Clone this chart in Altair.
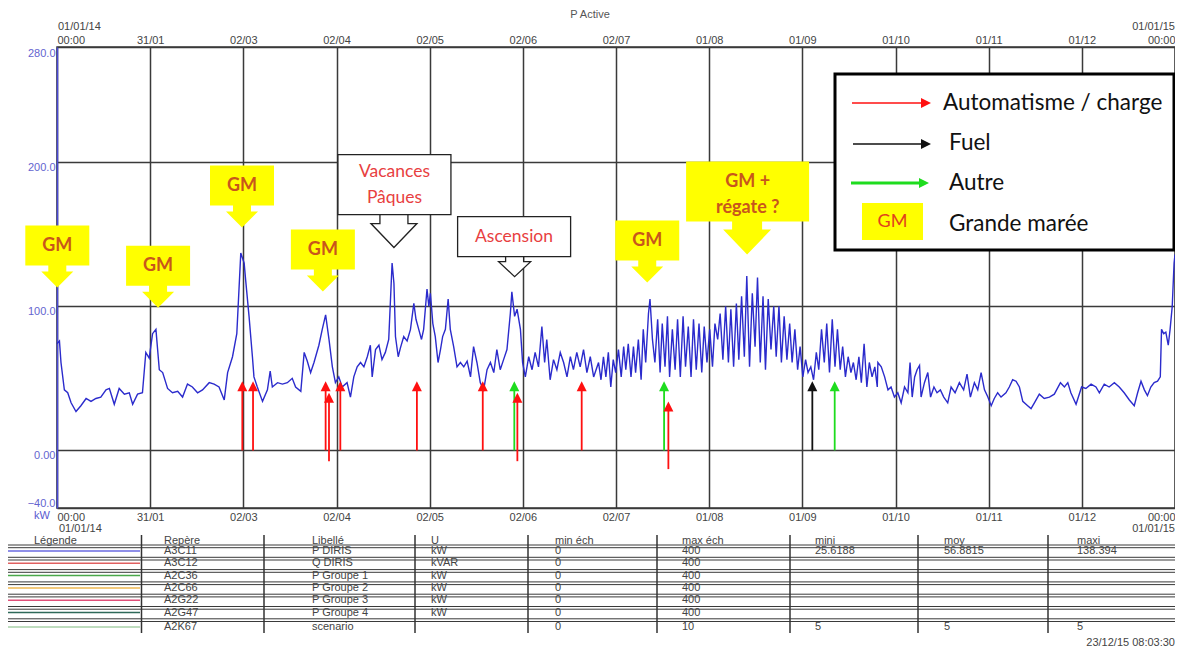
import altair as alt
import pandas as pd

# ---------------- series: P DIRIS (kW) vs day of year 2014 ----------------
day = [0.0, 0.8, 1.3, 2.4, 3.5, 4.6, 6.2, 7.8, 9.5, 11.1, 12.7, 14.3, 16.0, 17.1, 18.7, 20.3, 22.0, 23.6, 24.7, 26.3,
       27.9, 29.0, 30.1, 31.2, 32.3, 33.4, 34.5, 36.1, 37.7, 39.4, 41.0, 42.6, 44.2, 45.9, 47.5, 49.7, 51.3, 52.9, 54.6, 55.7,
       57.3, 58.7, 60.0, 61.1, 61.6, 62.7, 63.8, 64.3, 65.4, 67.1, 68.7, 69.6, 70.3, 72.0, 73.6, 75.2, 76.8, 77.9, 79.6, 80.7,
       81.7, 82.8, 83.9, 85.5, 86.6, 87.7, 88.8, 89.9,
       90.9, 92.0, 93.1, 94.7, 95.8, 96.9, 98.0, 99.1, 100.2, 101.3, 102.3, 102.9, 104.0, 105.1, 106.1, 107.2, 108.3, 109.4,
       110.0, 110.5, 111.4, 112.1, 113.2, 114.3, 115.4, 116.5, 117.2, 118.1, 119.0, 119.7, 120.8, 121.4, 121.9, 122.7, 123.5,
       124.4, 125.2, 125.9, 126.8, 127.7, 128.4, 129.5, 130.6, 131.7, 132.8, 133.9, 135.0, 136.0, 137.1, 138.2, 139.3, 140.4,
       141.5, 142.6, 143.6, 144.7, 145.8, 146.9, 148.0, 148.5, 149.4, 150.2, 151.3, 152.0, 152.9, 154.0, 155.1, 156.1, 157.2,
       158.3, 159.2, 159.9, 161.0, 162.1, 163.2, 164.3, 165.4, 166.5, 167.6, 168.6, 169.7, 170.8, 171.9, 173.0, 174.1, 175.2,
       176.8, 177.6, 178.4, 179.2, 180.0, 180.8, 181.6, 182.4, 183.3, 184.2, 185.0, 185.7, 186.5, 187.4, 188.2, 188.9, 189.8,
       190.7, 191.4, 192.2, 193.1, 193.6, 194.4, 195.2, 196.1, 196.9, 197.6, 198.5, 199.3, 200.0, 200.9, 201.8, 202.6, 203.5,
       204.4, 205.2, 206.1, 207.0, 207.8, 208.7, 209.6, 210.5, 211.3, 212.2, 213.1, 214.0, 214.8, 215.7, 216.5, 217.4, 218.3,
       219.2, 220.0, 220.9, 221.8, 222.6, 223.5, 224.4, 225.2, 226.1, 227.0, 227.9, 228.7, 229.6, 230.5, 231.3, 232.2, 233.1,
       234.0, 234.8, 235.7, 236.5, 237.4, 238.3, 239.2, 240.0, 240.9, 241.8, 242.6, 243.5, 244.4, 245.2, 246.1, 247.0, 247.9,
       248.7, 249.6, 250.5, 251.3, 252.2, 253.1, 254.0, 254.8, 255.7, 256.5, 257.4, 258.3, 259.2, 260.0, 260.9, 261.8, 262.6,
       263.5, 264.4, 265.2, 266.1, 267.0, 267.8,
       268.0, 269.1, 270.2, 271.3, 272.3, 273.4, 274.5, 275.6, 276.7, 277.8, 278.5, 279.2, 280.0, 280.8, 281.6, 282.1, 283.2,
       284.3, 285.2, 286.3, 287.3, 288.4, 289.5, 290.8, 291.9, 293.2, 294.6, 296.0, 297.1, 298.2, 299.5, 300.6, 301.7, 302.8,
       303.9, 305.0, 306.0, 307.1, 308.2, 309.8, 310.9, 312.0, 313.1, 314.2, 315.3, 316.9, 318.0, 319.1, 320.7, 322.3, 324.0,
       325.6, 327.6, 328.9, 330.0, 331.0, 332.7, 334.5, 335.9, 337.6, 339.2, 340.3, 341.9, 343.5, 345.2, 346.8, 348.4, 350.1,
       351.7, 352.8, 353.9, 355.0, 356.0, 357.1, 358.2, 359.3, 360.2, 360.6, 361.3, 362.0, 362.8, 363.4, 364.1, 364.7, 365.0]
kw = [74, 76, 61, 42, 40, 33, 27, 31, 36, 34, 36, 37, 42, 43, 32, 43, 39, 40, 32, 39,
      40, 68, 64, 81, 84, 56, 54, 43, 40, 41, 37, 46, 44, 40, 42, 47, 46, 44, 35, 54,
      65, 81, 137, 130, 118, 93, 65, 51, 44, 34, 42, 55, 44, 47, 46, 47, 50, 44, 41, 68,
      62, 54, 61, 73, 84, 94, 77, 58,
      47, 51, 44, 47, 37, 51, 58, 61, 58, 65, 73, 51, 70, 73, 63, 68, 77, 130,
      116, 79, 65, 71, 79, 76, 84, 102, 91, 84, 77, 84, 112, 100, 109, 88, 79,
      61, 70, 79, 84, 105, 84, 72, 58, 61, 58, 62, 51, 72, 61, 47, 42, 56,
      61, 54, 70, 56, 63, 70, 95, 110, 93, 98, 84, 61, 51, 65, 56, 68, 58,
      86, 61, 77, 49, 63, 56, 68, 61, 51, 65, 56, 68, 58, 70, 54, 65, 51,
      61, 49, 65, 51, 68, 44, 63, 54, 70, 51, 72, 56, 74, 51, 72, 54, 77,
      49, 84, 61, 95, 105, 77, 61, 91, 54, 88, 58, 93, 51, 84, 56, 91, 51,
      93, 58, 86, 51, 91, 56, 88, 54, 86, 61, 84, 58, 88, 77, 95, 63, 100,
      61, 98, 58, 102, 63, 107, 65, 121, 58, 109, 72, 120, 61, 107, 56, 105, 70,
      100, 65, 100, 61, 93, 63, 88, 61, 84, 56, 72, 51, 63, 54, 58, 49, 68,
      56, 84, 61, 88, 54, 91, 58, 84, 56, 72, 51, 65, 54, 61, 49, 65, 47,
      74, 44, 61, 51, 58, 44,
      61, 58, 51, 42, 44, 37, 40, 33, 44, 40, 61, 37, 51, 56, 59, 37, 47,
      54, 37, 44, 40, 42, 37, 33, 44, 40, 47, 42, 53, 37, 47, 42, 54, 42,
      37, 31, 36, 40, 37, 40, 44, 49, 48, 44, 34, 31, 29, 33, 39, 36, 37,
      39, 47, 44, 47, 40, 32, 44, 43, 46, 44, 40, 46, 44, 47, 44, 40, 35,
      31, 40, 48, 42, 38, 44, 47, 48, 51, 84, 81, 82, 73, 84, 100, 130, 136]

# ---------------- event arrows ----------------
ev_day = [60.5, 64.0, 87.7, 88.8, 92.5, 117.5, 139.0, 149.3, 150.3, 171.3, 198.2, 199.6, 246.6, 253.9]
ev_from = [0, 0, 0, -7.5, 0, 0, 0, 0, -7.5, 0, 0, -13, 0, 0]
ev_tip = [48, 48, 48, 40, 48, 48, 48, 48, 40, 48, 48, 34, 48, 48]
ev_kind = ["Automatisme / charge"] * 7 + ["Autre", "Automatisme / charge", "Automatisme / charge",
                                          "Autre", "Automatisme / charge", "Fuel", "Autre"]
kinds = ["Automatisme / charge", "Fuel", "Autre"]
kind_colors = ["#ff1010", "#111111", "#1edc1e"]

# ---------------- callouts (arrow tip in day / kW) ----------------
gm_day = [0.1, 33.0, 60.4, 86.8, 192.7]
gm_tip = [113.0, 99.0, 154.7, 110.2, 116.5]
regate_day, regate_tip = 225.3, 135.9
vac_day, vac_tip = 110.0, 140.8
asc_day, asc_tip = 149.4, 120.6

# ---------------- axis labels ----------------
x_labels = ["00:00", "31/01", "02/03", "02/04", "02/05", "02/06", "02/07", "01/08", "01/09", "01/10", "01/11", "01/12", "00:00"]
y_ticks = [-40, 0, 100, 200, 280]

# ---------------- table ----------------
tbl_headers = ["Légende", "Repère", "Libellé", "U", "min éch", "max éch", "mini", "moy", "maxi"]
tbl_repere = ["A3C11", "A3C12", "A2C36", "A2C66", "A2G22", "A2G47", "A2K67"]
tbl_libelle = ["P DIRIS", "Q DIRIS", "P Groupe 1", "P Groupe 2", "P Groupe 3", "P Groupe 4", "scenario"]
tbl_unit = ["kW", "kVAR", "kW", "kW", "kW", "kW", ""]
tbl_min_ech = ["0", "0", "0", "0", "0", "0", "0"]
tbl_max_ech = ["400", "400", "400", "400", "400", "400", "10"]
tbl_mini = ["25.6188", "", "", "", "", "", "5"]
tbl_moy = ["56.8815", "", "", "", "", "", "5"]
tbl_maxi = ["138.394", "", "", "", "", "", "5"]
tbl_line_colors = ["#6a6ae0", "#e06060", "#4aa84a", "#f0b850", "#e0507a", "#2f6a5a", "#a8d0a8"]

# ---------------- layout helpers (page pixel -> data units) ----------------
W, H = 1118, 461
X0, Y0 = 57, 47
K = 320 / H


def dx(xp):
    return (xp - X0) * 365 / W


def vy(yp):
    return 280 - (yp - Y0) * K


xs = alt.Scale(domain=[0, 365], nice=False, zero=False)
ys = alt.Scale(domain=[-40, 280], nice=False, zero=False)
FONT = "Liberation Sans"
CAL = "Lato"


def X(f, axis=None):
    return alt.X(f, type="quantitative", scale=xs, axis=axis)


def Y(f, axis=None):
    return alt.Y(f, type="quantitative", scale=ys, axis=axis)


tick_vals = [round(365 * k / 12, 4) for k in range(13)]
lab_expr = "[" + ",".join("'%s'" % l for l in x_labels) + "][round(datum.value*12/365)]"

top_axis = alt.Axis(orient="top", values=tick_vals, labelExpr=lab_expr, grid=True, gridColor="#3a3a3a",
                    gridWidth=1.5, gridOpacity=1, domain=False, ticks=False, labelFlush=True, labelPadding=2,
                    labelColor="#444", labelFontSize=11, labelFont=FONT, title=None)
bot_axis = alt.Axis(orient="bottom", values=tick_vals, labelExpr=lab_expr, grid=False, domain=False, ticks=False,
                    labelFlush=True, labelPadding=3, labelColor="#444", labelFontSize=11, labelFont=FONT, title=None)
y_axis = alt.Axis(orient="left", values=y_ticks,
                  labelExpr="datum.value == 0 ? '0.00' : format(datum.value, '.1f')",
                  grid=True, gridColor="#3a3a3a", gridWidth=1.5, gridOpacity=1, domain=True, domainColor="#4a4ad8",
                  domainWidth=1.5, ticks=False, labelFlush=True, labelPadding=2, labelColor="#6464d0",
                  labelOffset={"condition": {"test": "datum.value == 0 || datum.value == 100 || datum.value == 200",
                                             "value": 5}, "value": 0},
                  labelFontSize=11, labelFont=FONT, title=None)

series = pd.DataFrame({"day": day, "kw": kw})

top_layer = alt.Chart(series).mark_line(opacity=0).encode(x=X("day", top_axis), y=Y("kw", y_axis))
line = alt.Chart(series).mark_line(color="#2b2bcc", strokeWidth=1.4).encode(x=X("day", bot_axis), y=Y("kw"))

# event arrows
ev = pd.DataFrame({"day": ev_day, "start": ev_from, "tip": ev_tip, "kind": ev_kind})
ev_color = alt.Color("kind:N", scale=alt.Scale(domain=kinds, range=kind_colors), legend=None)
ev_rule = alt.Chart(ev).transform_calculate(top="datum.tip - 5").mark_rule(strokeWidth=1.8).encode(
    x=X("day"), y=Y("start"), y2="top:Q", color=ev_color)
ev_head = alt.Chart(ev).mark_point(shape="M0,0 L-5,10 L5,10 Z", size=4, filled=True, opacity=1, strokeWidth=0).encode(
    x=X("day"), y=Y("tip"), color=ev_color)

# callouts
GM_PATH = "M-32,-62 L32,-62 L32,-22 L9,-22 L9,-16 L16,-16 L0,0 L-16,-16 L-9,-16 L-9,-22 L-32,-22 Z"
REG_PATH = "M-61,-93 L62,-93 L62,-33 L15,-33 L15,-25 L24,-25 L0,0 L-24,-25 L-15,-25 L-15,-33 L-61,-33 Z"
VAC_BOX = "M-56,-93 L57,-93 L57,-33 L-56,-33 Z"
VAC_ARR = "M-14,-33 L-14,-24 L-23,-24 L0,0 L23,-24 L14,-24 L14,-33 Z"
ASC_BOX = "M-57,-60 L56,-60 L56,-20 L-57,-20 Z"
ASC_ARR = "M-9,-20 L-9,-15 L-16,-15 L0,0 L16,-15 L9,-15 L9,-20 Z"

gm_df = pd.DataFrame({"day": gm_day, "tip": gm_tip})
gm_shape = alt.Chart(gm_df).mark_point(shape=GM_PATH, size=4, filled=True, color="#ffff00", opacity=1,
                                       strokeWidth=0).encode(x=X("day"), y=Y("tip"))
reg_df = pd.DataFrame({"day": [regate_day], "tip": [regate_tip]})
reg_shape = alt.Chart(reg_df).mark_point(shape=REG_PATH, size=4, filled=True, color="#ffff00", opacity=1,
                                         strokeWidth=0).encode(x=X("day"), y=Y("tip"))
outline = []
for path, d, t in [(VAC_BOX, vac_day, vac_tip), (VAC_ARR, vac_day, vac_tip), (ASC_BOX, asc_day, asc_tip),
                   (ASC_ARR, asc_day, asc_tip)]:
    outline.append(alt.Chart(pd.DataFrame({"day": [d], "tip": [t]})).mark_point(
        shape=path, size=4, filled=True, fill="white", stroke="#222", strokeWidth=1.3, opacity=1).encode(
        x=X("day"), y=Y("tip")))

gm_txt_df = pd.DataFrame({
    "day": gm_day + [regate_day + 0.2, regate_day + 0.2],
    "v": [t + 42 * K for t in gm_tip] + [regate_tip + 73 * K, regate_tip + 47 * K],
    "t": ["GM"] * 5 + ["GM +", "régate ?"]})
gm_txt = alt.Chart(gm_txt_df).mark_text(font=CAL, fontSize=18, fontWeight="bold", color="#c8561c",
                                        baseline="middle").encode(x=X("day"), y=Y("v"), text="t:N")
red_txt_df = pd.DataFrame({
    "day": [vac_day + 0.2, vac_day + 0.2, asc_day - 0.2],
    "v": [vac_tip + 76 * K, vac_tip + 50 * K, asc_tip + 40 * K],
    "t": ["Vacances", "Pâques", "Ascension"]})
red_txt = alt.Chart(red_txt_df).mark_text(font=CAL, fontSize=17.5, color="#e8403f", baseline="middle").encode(
    x=X("day"), y=Y("v"), text="t:N")

# legend box (page pixel layout converted to data units)
leg_box = alt.Chart(pd.DataFrame({"a": [dx(835)], "b": [dx(1174)], "c": [vy(74)], "d": [vy(250)]})).mark_rect(
    fill="white", stroke="#000", strokeWidth=3).encode(x=X("a"), x2="b:Q", y=Y("c"), y2="d:Q")
leg_ar = pd.DataFrame({"a": [dx(852), dx(853), dx(851)], "b": [dx(925), dx(925), dx(923)],
                       "tip": [dx(931), dx(931), dx(929)], "y": [vy(103), vy(144), vy(183)], "kind": kinds,
                       "w": [1.6, 1.6, 3.0]})
leg_rule = alt.Chart(leg_ar).mark_rule().encode(x=X("a"), x2="b:Q", y=Y("y"), color=ev_color,
                                                strokeWidth=alt.StrokeWidth("w:Q", scale=None))
leg_head = alt.Chart(leg_ar).mark_point(shape="M0,0 L-10,-5 L-10,5 Z", size=4, filled=True, opacity=1,
                                        strokeWidth=0).encode(x=X("tip"), y=Y("y"), color=ev_color)
leg_gm = alt.Chart(pd.DataFrame({"a": [dx(862)], "b": [dx(923)], "c": [vy(203)], "d": [vy(240)]})).mark_rect(
    fill="#ffff00").encode(x=X("a"), x2="b:Q", y=Y("c"), y2="d:Q")
leg_gm_txt = alt.Chart(pd.DataFrame({"x": [dx(892.5)], "y": [vy(222)], "t": ["GM"]})).mark_text(
    font=CAL, fontSize=18, color="#e2421c", baseline="middle").encode(x=X("x"), y=Y("y"), text="t:N")
leg_txt = alt.Chart(pd.DataFrame({"x": [dx(943), dx(949), dx(949), dx(949)],
                                  "y": [vy(103), vy(143), vy(183), vy(224)],
                                  "t": kinds + ["Grande marée"]})).mark_text(
    font=CAL, fontSize=22.5, color="#111", align="left", baseline="middle").encode(x=X("x"), y=Y("y"), text="t:N")

# extra axis texts
ax_left = alt.Chart(pd.DataFrame({"x": [dx(58), dx(59)], "y": [vy(27), vy(529)],
                                  "t": ["01/01/14", "01/01/14"]})).mark_text(
    font=FONT, fontSize=11, color="#444", align="left", baseline="middle").encode(x=X("x"), y=Y("y"), text="t:N")
ax_right = alt.Chart(pd.DataFrame({"x": [dx(1175), dx(1175)], "y": [vy(27), vy(529)],
                                   "t": ["01/01/15", "01/01/15"]})).mark_text(
    font=FONT, fontSize=11, color="#444", align="right", baseline="middle").encode(x=X("x"), y=Y("y"), text="t:N")
kw_txt = alt.Chart(pd.DataFrame({"x": [dx(50)], "y": [vy(516)], "t": ["kW"]})).mark_text(
    font=FONT, fontSize=11, color="#5a5ad0", align="right", baseline="middle").encode(x=X("x"), y=Y("y"), text="t:N")
title_txt = alt.Chart(pd.DataFrame({"x": [dx(590)], "y": [vy(15)], "t": ["P Active"]})).mark_text(
    font=FONT, fontSize=11, color="#555", align="center", baseline="middle").encode(x=X("x"), y=Y("y"), text="t:N")

# table
col_x = [34, 164, 312, 431, 555, 682, 815, 944, 1077]
header_y = 540.5
row_y = [551, 563.3, 575.6, 587.9, 600.2, 612.5, 627]
sep_x = [141.5, 264, 415, 528, 657, 790, 918, 1048]
cells = []
for c, h in enumerate(tbl_headers):
    cells.append((col_x[c], header_y, h))
cols = [tbl_repere, tbl_libelle, tbl_unit, tbl_min_ech, tbl_max_ech, tbl_mini, tbl_moy, tbl_maxi]
for c, colv in enumerate(cols):
    for r, v in enumerate(colv):
        if v:
            cells.append((col_x[c + 1], row_y[r], v))
tbl_df = pd.DataFrame({"x": [dx(a) for a, _, _ in cells], "y": [vy(b) for _, b, _ in cells],
                       "t": [t for _, _, t in cells]})
tbl_text = alt.Chart(tbl_df).mark_text(font=FONT, fontSize=11, color="#444", align="left",
                                       baseline="middle").encode(x=X("x"), y=Y("y"), text="t:N")
hl = []
for i in range(7):
    hl.append(545 + 12.3 * i)
    hl.append(547.7 + 12.3 * i)
hl_df = pd.DataFrame({"a": [dx(8)] * len(hl), "b": [dx(1175)] * len(hl), "y": [vy(v) for v in hl]})
tbl_hl = alt.Chart(hl_df).mark_rule(color="#3a3a3a", strokeWidth=1).encode(x=X("a"), x2="b:Q", y=Y("y"))
vl_df = pd.DataFrame({"x": [dx(v) for v in sep_x], "a": [vy(535)] * len(sep_x), "b": [vy(633)] * len(sep_x)})
tbl_vl = alt.Chart(vl_df).mark_rule(color="#333", strokeWidth=1.5).encode(x=X("x"), y=Y("a"), y2="b:Q")
cl_df = pd.DataFrame({"a": [dx(8)] * 7, "b": [dx(140)] * 7, "y": [vy(v) for v in row_y],
                      "c": tbl_line_colors})
tbl_cl = alt.Chart(cl_df).mark_rule(strokeWidth=1.5).encode(x=X("a"), x2="b:Q", y=Y("y"),
                                                            color=alt.Color("c:N", scale=None))
stamp = alt.Chart(pd.DataFrame({"x": [dx(1175)], "y": [vy(643)], "t": ["23/12/15 08:03:30"]})).mark_text(
    font=FONT, fontSize=11, color="#444", align="right", baseline="middle").encode(x=X("x"), y=Y("y"), text="t:N")

chart = alt.layer(
    top_layer, line, ev_rule, ev_head, gm_shape, reg_shape, *outline, gm_txt, red_txt,
    leg_box, leg_rule, leg_head, leg_gm, leg_gm_txt, leg_txt,
    ax_left, ax_right, kw_txt, title_txt,
    tbl_hl, tbl_cl, tbl_vl, tbl_text, stamp
).resolve_axis(x="independent", y="independent").properties(
    width=W, height=H,
    padding={"left": 49, "top": 39, "right": 0, "bottom": 140},
    autosize=alt.AutoSizeParams(type="none"),
    background="white"
).configure_view(stroke="#3a3a3a", strokeWidth=1.5)

chart.save("out.html", embed_options={"renderer": "svg", "actions": False})
